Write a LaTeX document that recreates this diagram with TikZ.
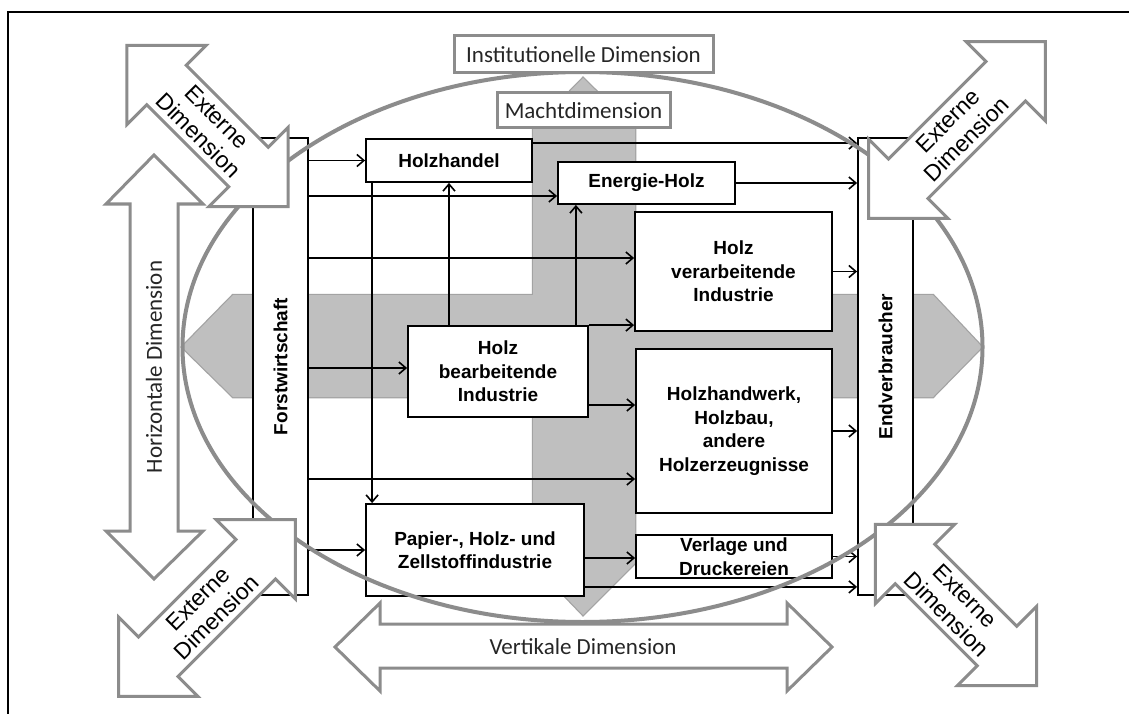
\documentclass[tikz,border=0pt]{standalone}
\usepackage{fontspec}
\setmainfont{Liberation Sans}
\newfontfamily\calib{Carlito}
\usepackage{xcolor}
\definecolor{dimgray}{HTML}{8C8C8C}
\definecolor{dimtext}{HTML}{262626}
\definecolor{crossgray}{HTML}{BFBFBF}
\definecolor{crossedge}{HTML}{A3A3A3}
\usetikzlibrary{arrows.meta, positioning, calc}

\begin{document}
\begin{tikzpicture}[
  x=1pt, y=-1pt,
  box/.style={draw=black, line width=1.8pt, fill=white, inner sep=0pt, align=center, font=\bfseries\fontsize{19}{23.5}\selectfont},
  arr/.style={-{Straight Barb[length=7pt, width=12pt]}, line width=1.6pt},
  dimlabel/.style={font=\calib\fontsize{23}{27}\selectfont, text=dimtext},
  dimbox/.style={draw=dimgray, line width=3pt, fill=white, inner sep=0pt, dimlabel},
  extlabel/.style={align=center, inner sep=0pt, font=\fontsize{23}{26}\selectfont, text=black},
  hollow/.style={draw=dimgray, line width=3pt, fill=white, line join=miter},
  ring/.style={draw=dimgray, line width=4pt},
  crossline/.style={draw=crossedge, line width=2.5pt, line join=miter},
  crossfill/.style={fill=crossgray},
]
\useasboundingbox (0,0) rectangle (1129,714);
\fill[white] (0,0) rectangle (1129,714);
\draw[line width=2pt] (8,714) -- (8,12) -- (1129,12);

% grey cross (horizontal and power dimension)
\draw[crossline] (182,347) -- (233,295) -- (933,295) -- (982,347) -- (933,397) -- (233,397) -- cycle;
\draw[crossline] (583,78) -- (635,129) -- (635,563) -- (583,615) -- (533,563) -- (533,129) -- cycle;
\fill[crossfill] (182,347) -- (233,295) -- (933,295) -- (982,347) -- (933,397) -- (233,397) -- cycle;
\fill[crossfill] (583,78) -- (635,129) -- (635,563) -- (583,615) -- (533,563) -- (533,129) -- cycle;

% value chain
\node[box, minimum width=55pt, minimum height=457pt] (forst) at (280.5,366.5) {\rotatebox{90}{Forstwirtschaft}};
\node[box, minimum width=55pt, minimum height=457pt] (endv) at (885.5,366.5) {\rotatebox{90}{Endverbraucher}};
\node[box, minimum width=166pt, minimum height=43pt] (handel) at (449,160.5) {Holzhandel};
\node[box, minimum width=177pt, minimum height=42pt] (energie) at (646.5,183) {Energie-Holz};
\node[box, minimum width=197pt, minimum height=119pt] (verarb) at (733.5,271.5) {Holz\\verarbeitende\\Industrie};
\node[box, minimum width=180pt, minimum height=91pt] (bearb) at (498,371.5) {Holz\\bearbeitende\\Industrie};
\node[box, minimum width=196pt, minimum height=164pt] (handwerk) at (734,431) {Holzhandwerk,\\Holzbau,\\andere\\Holzerzeugnisse};
\node[box, minimum width=218pt, minimum height=92pt] (papier) at (475,550) {Papier-, Holz- und\\Zellstoffindustrie};
\node[box, minimum width=196pt, minimum height=43pt] (verlage) at (734,556.5) {Verlage und\\Druckereien};

\coordinate (energie_in) at ([yshift=-13pt]energie.west);
\coordinate (verarb_in) at ([yshift=13.5pt]verarb.west);
\coordinate (bearb_in) at ([yshift=3.5pt]bearb.west);
\coordinate (handwerk_in) at ([yshift=-48pt]handwerk.west);
\coordinate (handel_out) at ([yshift=-5pt]handel.north east);
\coordinate (papier_out) at ([yshift=10pt]papier.south east);
\coordinate (papier_mid) at ([yshift=-8pt]papier.east);
\coordinate (bearb_up) at ([xshift=-13pt]bearb.north east);
\coordinate (bearb_out) at ([yshift=-33.5pt]bearb.east);
\coordinate (handel_down) at ([xshift=7pt]handel.south west);

\draw[arr] (forst.east |- handel.west) -- (handel.west);
\draw[arr] (forst.east |- energie_in) -- (energie_in);
\draw[arr] (forst.east |- verarb_in) -- (verarb_in);
\draw[arr] (forst.east |- bearb_in) -- (bearb_in);
\draw[arr] (forst.east |- handwerk_in) -- (handwerk_in);
\draw[arr] (forst.east |- papier.west) -- (papier.west);
\draw[arr] (handel_out) -- (endv.west |- handel_out);
\draw[arr] (energie.east) -- (endv.west |- energie.east);
\draw[arr] (verarb.east) -- (endv.west |- verarb.east);
\draw[arr] (handwerk.east) -- (endv.west |- handwerk.east);
\draw[arr] (verlage.east) -- (endv.west |- verlage.east);
\draw[arr] (papier_out) -- (endv.west |- papier_out);
\draw[arr] (papier_mid) -- (verlage.west |- papier_mid);
\draw[arr] (bearb.north -| handel.south) -- (handel.south);
\draw[arr] (bearb_up) -- (energie.south -| bearb_up);
\draw[arr] (bearb.north east) -- (verarb.west |- bearb.north east);
\draw[arr] (bearb_out) -- (handwerk.west |- bearb_out);
\draw[arr] (handel_down) -- (papier.north -| handel_down);

% institutional ring
\draw[ring] (582.5,347) ellipse [x radius=400pt, y radius=275pt];
\node[dimbox, minimum width=259pt, minimum height=37pt] (inst) at (583.5,54.5) {Institutionelle Dimension};
\node[dimbox, minimum width=173pt, minimum height=35pt] (macht) at (583.5,110.5) {Machtdimension};

% horizontal and vertical dimension
\draw[hollow] (154,155) -- (203,204) -- (178,204) -- (178,531) -- (203,531) -- (154,579) -- (106,531) -- (130,531) -- (130,204) -- (106,204) -- cycle;
\node[dimlabel, rotate=90] (horiz) at (154,367) {Horizontale Dimension};
\draw[hollow] (335,647) -- (380,603) -- (380,624) -- (787,624) -- (787,603) -- (832,647) -- (787,691) -- (787,668) -- (380,668) -- (380,691) -- cycle;
\node[dimlabel] (vert) at (583,647) {Vertikale Dimension};

% external dimension
\foreach \cx/\cy/\ang/\half [count=\i] in {207.5/126/-45/114, 957/130/45/125, 207/608/45/125, 956/605/-45/114} {
  \begin{scope}[shift={(\cx,\cy)}, rotate=\ang]
    \draw[hollow] (-\half,0) -- (-\half+56,-56) -- (-\half+56,-28) -- (\half-56,-28) -- (\half-56,-56) -- (\half,0)
      -- (\half-56,56) -- (\half-56,28) -- (-\half+56,28) -- (-\half+56,56) -- cycle;
    \node[extlabel, transform shape] (ext\i) at (0,0) {Externe\\Dimension};
  \end{scope}
}
\end{tikzpicture}
\end{document}
